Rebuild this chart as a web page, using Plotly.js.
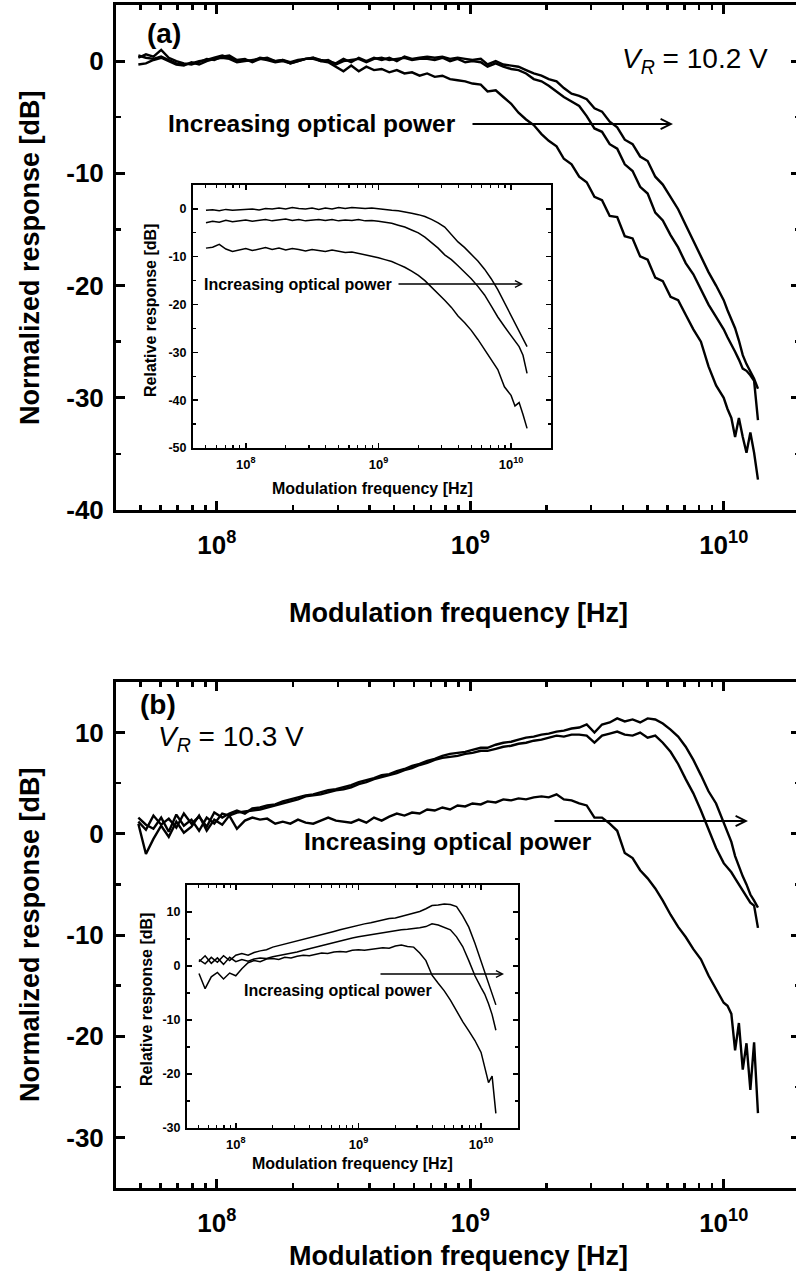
<!DOCTYPE html>
<html>
<head>
<meta charset="utf-8">
<script src="https://cdn.plot.ly/plotly-3.0.1.min.js"></script>
<style>
html,body{margin:0;padding:0;overflow:hidden;background:#fff;}
#chart{width:810px;height:1281px;}
</style>
</head>
<body>
<div id="chart"></div>
<script>
// ---------------- DATA ----------------
// Frequency grid (Hz) of the main panels
const freqMain = [4.90e7,5.25e7,5.62e7,6.03e7,6.46e7,6.92e7,7.41e7,7.94e7,8.51e7,9.12e7,
9.77e7,1.05e8,1.12e8,1.20e8,1.29e8,1.38e8,1.48e8,1.58e8,1.70e8,1.82e8,
1.95e8,2.09e8,2.24e8,2.40e8,2.57e8,2.75e8,2.95e8,3.16e8,3.39e8,3.63e8,
3.89e8,4.17e8,4.47e8,4.79e8,5.13e8,5.50e8,5.89e8,6.31e8,6.76e8,7.24e8,
7.76e8,8.32e8,8.91e8,9.55e8,1.02e9,1.10e9,1.17e9,1.26e9,1.35e9,1.45e9,
1.55e9,1.66e9,1.78e9,1.91e9,2.04e9,2.19e9,2.34e9,2.51e9,2.69e9,2.88e9,
3.09e9,3.31e9,3.55e9,3.80e9,4.07e9,4.37e9,4.68e9,5.01e9,5.37e9,5.75e9,
6.17e9,6.61e9,7.08e9,7.59e9,8.13e9,8.71e9,9.33e9,
1.00e10,1.035e10,1.072e10,1.109e10,1.148e10,1.189e10,1.230e10,1.274e10,1.318e10,1.365e10];

// Panel (a), V_R = 10.2 V, normalized response [dB]
const respA_high = [0.5,0.3,0.2,0.4,0.1,-0.2,-0.3,-0.2,0.0,0.1,
0.3,0.5,0.3,0.0,0.1,0.0,0.3,0.2,0.0,0.1,
-0.2,0.0,0.2,0.3,0.1,0.0,-0.2,0.2,-0.1,0.3,
0.0,0.3,0.1,0.3,0.0,0.4,0.2,0.3,0.4,0.3,
0.4,0.2,0.3,0.2,0.1,0.2,-0.3,0.0,-0.3,-0.4,
-0.5,-0.8,-1.1,-1.3,-1.6,-1.8,-2.4,-2.9,-3.1,-3.4,
-4.2,-4.5,-5.4,-5.9,-7.0,-7.4,-8.5,-8.9,-10.3,-11.0,
-12.1,-13.2,-14.6,-16.0,-17.4,-18.8,-20.0,
-21.3,-22.2,-23.0,-23.8,-24.9,-26.2,-27.0,-27.6,-28.3,-29.2];
const respA_mid = [0.3,0.6,0.4,1.0,0.3,0.0,-0.2,-0.3,-0.1,0.2,
0.1,0.4,0.5,0.1,0.2,-0.1,0.2,0.3,0.0,0.1,
-0.1,0.1,0.2,0.2,0.0,0.1,-0.3,0.0,0.1,0.2,
-0.1,0.2,0.3,0.1,0.2,0.3,0.1,0.2,0.2,0.1,
0.3,0.0,0.2,-0.1,0.0,-0.1,-0.5,-0.2,-0.5,-0.7,
-0.8,-1.1,-1.6,-1.8,-2.2,-2.7,-3.2,-3.6,-4.0,-4.9,
-6.0,-6.3,-7.4,-7.8,-9.2,-9.8,-11.2,-11.8,-13.5,-14.2,
-15.5,-16.6,-18.0,-19.0,-20.3,-21.7,-22.8,
-23.9,-24.6,-25.2,-25.9,-26.6,-27.4,-27.6,-28.0,-28.5,-32.0];
const respA_low = [-0.3,-0.2,0.1,0.3,0.0,-0.3,-0.4,-0.1,-0.3,0.0,
0.2,0.3,0.2,-0.1,0.0,0.1,0.2,0.1,-0.1,0.0,
-0.2,0.0,0.2,0.3,0.0,-0.1,-0.5,-0.9,-0.4,-0.9,
-0.5,-0.8,-0.7,-1.0,-0.8,-1.1,-1.0,-1.3,-1.1,-1.4,
-1.3,-1.6,-1.7,-1.8,-2.0,-2.1,-2.7,-2.6,-3.2,-3.8,
-4.6,-5.2,-5.7,-6.5,-7.1,-7.6,-8.7,-9.2,-10.3,-10.8,
-12.1,-12.4,-13.8,-13.9,-15.6,-15.8,-17.4,-17.7,-19.3,-19.6,
-21.0,-21.3,-22.6,-23.9,-25.0,-27.2,-28.9,
-30.0,-31.0,-31.8,-33.5,-31.8,-33.5,-34.9,-33.1,-34.9,-37.3];

// Panel (b), V_R = 10.3 V, normalized response [dB]
const respB_high = [1.2,0.4,1.8,0.9,1.5,0.6,2.0,1.0,1.7,0.7,
2.1,1.6,2.0,2.3,2.0,2.5,2.6,2.8,2.9,3.2,
3.4,3.6,3.8,3.9,4.1,4.3,4.4,4.6,4.8,5.1,
5.3,5.5,5.8,5.9,6.2,6.4,6.7,6.9,7.2,7.4,
7.7,7.9,8.0,8.1,8.3,8.5,8.5,8.8,9.0,9.1,
9.3,9.5,9.6,9.8,9.9,10.1,10.2,10.4,10.5,10.8,
10.0,10.8,11.0,11.4,11.1,11.3,11.0,11.4,11.3,10.9,
10.3,9.6,8.6,7.3,5.8,4.2,3.0,
1.1,0.2,-0.8,-2.2,-3.3,-4.2,-5.0,-6.0,-6.6,-7.3];
const respB_mid = [1.6,0.9,0.5,1.6,0.2,1.9,0.8,1.4,0.3,1.6,
1.0,2.0,1.8,2.1,2.2,2.3,2.4,2.6,2.8,3.0,
3.2,3.4,3.7,3.8,3.9,4.1,4.3,4.4,4.6,4.9,
5.1,5.4,5.6,5.8,6.0,6.3,6.5,6.8,7.0,7.3,
7.5,7.6,7.7,7.9,8.0,8.2,8.2,8.4,8.6,8.7,
8.9,9.0,9.2,9.3,9.5,9.7,9.6,9.8,9.8,9.7,
9.0,9.7,9.9,10.1,9.8,9.7,10.0,9.5,9.7,9.0,
8.1,6.9,5.4,4.0,2.3,0.5,-1.4,
-2.9,-3.3,-3.8,-4.4,-5.0,-5.6,-6.1,-6.8,-7.1,-9.3];
const respB_low = [1.0,-2.0,-0.5,0.8,-0.3,1.2,0.1,0.7,1.8,0.3,
1.4,0.9,1.8,0.5,1.3,1.6,1.4,1.5,1.0,1.2,
1.0,1.4,1.1,1.0,1.3,1.6,1.3,1.2,1.1,1.4,
1.1,1.6,1.3,1.7,2.0,1.8,2.1,2.0,2.4,2.3,
2.6,2.4,2.8,2.7,3.0,2.9,3.2,3.1,3.4,3.3,
3.5,3.4,3.6,3.7,3.6,3.9,3.4,3.3,3.0,2.8,
1.6,1.6,1.0,0.3,-1.9,-2.4,-3.6,-4.4,-5.4,-6.6,
-8.0,-9.2,-10.2,-11.4,-12.4,-14.0,-15.4,
-16.7,-17.0,-17.8,-21.4,-18.7,-23.3,-20.7,-25.3,-20.6,-27.6];

// Frequency grid (Hz) of the insets
const freqInset = [5.01e7,5.62e7,6.31e7,7.08e7,7.94e7,8.91e7,1.00e8,1.12e8,1.26e8,1.41e8,
1.58e8,1.78e8,2.00e8,2.24e8,2.51e8,2.82e8,3.16e8,3.55e8,3.98e8,4.47e8,
5.01e8,5.62e8,6.31e8,7.08e8,7.94e8,8.91e8,1.00e9,1.12e9,1.26e9,1.41e9,
1.58e9,1.78e9,2.00e9,2.24e9,2.51e9,2.82e9,3.16e9,3.55e9,3.98e9,4.47e9,
5.01e9,5.62e9,6.31e9,7.08e9,7.94e9,8.91e9,1.00e10,1.07e10,1.15e10,1.23e10,1.32e10];

// Inset (a): relative response [dB]
const relA_high = [-0.3,-0.2,-0.4,-0.1,-0.3,-0.2,-0.1,0.0,-0.2,0.1,
0.0,0.2,0.0,0.3,0.1,0.0,0.2,-0.1,0.2,0.0,
0.3,0.1,0.3,0.2,0.1,0.2,0.0,-0.1,-0.3,-0.4,
-0.6,-0.9,-1.2,-1.6,-2.2,-2.9,-3.8,-5.3,-6.9,-8.1,
-9.4,-10.9,-12.6,-14.6,-16.9,-19.6,-22.2,-23.6,-25.3,-27.2,-28.8];
const relA_mid = [-2.9,-2.6,-2.8,-2.4,-2.7,-2.5,-2.3,-2.6,-2.4,-2.2,
-2.5,-2.3,-2.1,-2.4,-2.2,-2.5,-2.3,-2.2,-2.4,-2.2,
-2.5,-2.3,-2.4,-2.2,-2.5,-2.4,-2.6,-2.8,-3.0,-3.4,
-3.8,-4.4,-5.0,-5.9,-7.0,-8.2,-9.6,-10.6,-11.9,-13.2,
-14.6,-16.2,-18.0,-20.3,-22.6,-24.6,-26.4,-27.5,-28.8,-30.6,-34.4];
const relA_low = [-8.2,-8.0,-7.4,-8.4,-8.9,-8.6,-8.3,-8.7,-8.4,-8.1,
-8.5,-8.2,-8.6,-8.3,-8.5,-8.8,-8.5,-8.7,-8.9,-8.6,
-8.9,-9.1,-9.0,-9.3,-9.5,-9.8,-10.2,-10.6,-11.0,-11.6,
-12.2,-13.0,-13.9,-15.0,-16.3,-17.6,-19.1,-20.6,-22.4,-23.8,
-25.4,-27.3,-29.5,-31.4,-33.6,-37.2,-39.0,-41.2,-40.5,-43.0,-45.9];

// Inset (b): relative response [dB]
const relB_high = [1.2,0.4,1.6,0.7,1.9,1.0,2.0,2.3,2.0,2.5,
2.8,3.0,3.5,3.8,4.1,4.3,4.7,5.0,5.3,5.6,
5.9,6.1,6.4,6.7,7.0,7.3,7.6,7.8,8.0,8.3,
8.6,8.8,8.9,9.2,9.4,9.8,10.1,10.6,11.2,11.3,
11.5,11.4,11.0,9.3,7.2,4.2,0.8,-1.3,-3.3,-5.3,-7.2];
const relB_mid = [0.8,1.9,0.5,1.5,0.3,1.6,0.8,1.2,0.9,1.3,
1.5,1.4,1.7,1.9,2.1,2.4,2.6,2.9,3.2,3.5,
3.8,4.1,4.3,4.6,4.9,5.2,5.4,5.6,5.8,6.0,
6.2,6.4,6.5,6.7,6.8,6.9,7.1,7.3,7.8,7.6,
7.2,6.7,5.4,3.6,1.0,-1.8,-4.0,-5.2,-7.0,-9.0,-11.9];
const relB_low = [-1.4,-4.2,-2.0,-1.2,-2.4,-1.3,-1.8,-0.5,0.6,1.0,
0.8,1.3,1.4,1.2,1.6,1.5,1.8,2.0,1.9,2.2,
2.4,2.3,2.6,2.7,2.6,2.9,3.0,2.9,3.1,3.2,
3.4,3.3,3.7,3.9,3.6,3.5,2.4,1.0,-1.7,-3.2,
-4.6,-6.3,-8.4,-10.3,-12.0,-13.8,-16.0,-18.5,-21.6,-20.4,-27.3];

// Tick values / labels
const xMajorVals = [1e8, 1e9, 1e10];
const xMajorText = ['10<sup>8</sup>', '10<sup>9</sup>', '10<sup>10</sup>'];
const xMinorVals = [5e7,6e7,7e7,8e7,9e7,2e8,3e8,4e8,5e8,6e8,7e8,8e8,9e8,
                    2e9,3e9,4e9,5e9,6e9,7e9,8e9,9e9,2e10];
const yTicksA = [-40,-30,-20,-10,0];
const yMinorA = [-35,-25,-15,-5];
const yTicksB = [-30,-20,-10,0,10];
const yMinorB = [-25,-15,-5,5];
const yTicksInA = [-50,-40,-30,-20,-10,0];
const yMinorInA = [-45,-35,-25,-15,-5];
const yTicksInB = [-30,-20,-10,0,10];
const yMinorInB = [-25,-15,-5,5];

// ---------------- LAYOUT ----------------
const W = 810, H = 1281;
const fx = v => v / W;
const fy = v => 1 - v / H;
const FONT = 'Liberation Sans, Arial, Helvetica, sans-serif';
const XR = [Math.log10(4e7), Math.log10(2e10)];

function xAxis(dom, anchor, main) {
  return {
    type: 'log', range: XR, domain: dom, anchor: anchor,
    showline: true, linecolor: '#000', linewidth: main ? 3 : 2, mirror: 'ticks',
    ticks: 'inside', ticklen: main ? 9 : 5, tickwidth: main ? 3 : 1.5, tickcolor: '#000',
    tickmode: 'array', tickvals: xMajorVals, ticktext: xMajorText,
    ticklabelstandoff: main ? 10 : 3,
    tickfont: {family: FONT, size: main ? 26 : 13, color: '#000', weight: 'bold'},
    minor: {tickmode: 'array', tickvals: xMinorVals, ticks: 'inside',
            ticklen: main ? 5 : 3, tickwidth: main ? 2.5 : 1.2, tickcolor: '#000', showgrid: false},
    showgrid: false, zeroline: false, fixedrange: true
  };
}
function yAxis(dom, anchor, range, vals, minor, main) {
  return {
    range: range, domain: dom, anchor: anchor,
    showline: true, linecolor: '#000', linewidth: main ? 3 : 2, mirror: 'ticks',
    ticks: 'inside', ticklen: main ? 9 : 5, tickwidth: main ? 3 : 1.5, tickcolor: '#000',
    tickmode: 'array', tickvals: vals, ticktext: vals.map(v => String(v)),
    ticklabelstandoff: main ? 4 : 2,
    tickfont: {family: FONT, size: main ? 26 : 12.5, color: '#000', weight: 'bold'},
    minor: {tickmode: 'array', tickvals: minor, ticks: 'inside',
            ticklen: main ? 5 : 3, tickwidth: main ? 2.5 : 1.2, tickcolor: '#000', showgrid: false},
    showgrid: false, zeroline: false, fixedrange: true
  };
}

function line(x, y, xa, ya, w) {
  return {x: x, y: y, xaxis: xa, yaxis: ya, type: 'scatter', mode: 'lines',
          line: {color: '#000', width: w}, showlegend: false, hoverinfo: 'skip'};
}

const data = [
  line(freqMain, respA_high, 'x', 'y', 2.4),
  line(freqMain, respA_mid, 'x', 'y', 2.4),
  line(freqMain, respA_low, 'x', 'y', 2.4),
  line(freqInset, relA_high, 'x2', 'y2', 1.5),
  line(freqInset, relA_mid, 'x2', 'y2', 1.5),
  line(freqInset, relA_low, 'x2', 'y2', 1.5),
  line(freqMain, respB_high, 'x3', 'y3', 2.4),
  line(freqMain, respB_mid, 'x3', 'y3', 2.4),
  line(freqMain, respB_low, 'x3', 'y3', 2.4),
  line(freqInset, relB_high, 'x4', 'y4', 1.5),
  line(freqInset, relB_mid, 'x4', 'y4', 1.5),
  line(freqInset, relB_low, 'x4', 'y4', 1.5)
];

function txt(text, x, y, size, bold, opts) {
  return Object.assign({
    text: text, xref: 'paper', yref: 'paper', x: fx(x), y: fy(y),
    xanchor: 'left', yanchor: 'middle', showarrow: false,
    font: {family: FONT, size: size, color: '#000', weight: bold ? 'bold' : 'normal'}
  }, opts || {});
}
function arrow(x0, x1, y, w) {
  return {
    xref: 'paper', yref: 'paper', x: fx(x1), y: fy(y),
    axref: 'pixel', ayref: 'pixel', ax: -(x1 - x0), ay: 0,
    showarrow: true, arrowhead: 5, arrowsize: 1, arrowwidth: w, arrowcolor: '#000',
    standoff: 0, startstandoff: 0, text: ''
  };
}

const annotations = [
  // panel (a)
  txt('(a)', 145, 33, 28, true),
  txt('<i>V</i><sub><i>R</i></sub> = 10.2 V', 620, 60, 28, false),
  txt('Increasing optical power', 166, 123, 24.5, true),
  arrow(471, 673, 124, 2),
  txt('Increasing optical power', 202, 284, 16, true),
  arrow(397, 523, 284, 1.3),
  txt('Normalized response [dB]', 30, 258, 27, true, {xanchor: 'center', textangle: -90}),
  txt('Modulation frequency [Hz]', 458, 613, 27, true, {xanchor: 'center'}),
  txt('Relative response [dB]', 150, 311, 16, true, {xanchor: 'center', textangle: -90}),
  txt('Modulation frequency [Hz]', 372, 488, 16, true, {xanchor: 'center'}),
  // panel (b)
  txt('(b)', 138, 705, 28, true),
  txt('<i>V</i><sub><i>R</i></sub> = 10.3 V', 156, 738, 28, false),
  txt('Increasing optical power', 302, 842, 24.5, true),
  arrow(553, 748, 821, 2),
  txt('Increasing optical power', 242, 990, 16, true),
  arrow(379, 504, 974, 1.3),
  txt('Normalized response [dB]', 30, 935, 27, true, {xanchor: 'center', textangle: -90}),
  txt('Modulation frequency [Hz]', 458, 1256, 27, true, {xanchor: 'center'}),
  txt('Relative response [dB]', 146, 1000, 16, true, {xanchor: 'center', textangle: -90}),
  txt('Modulation frequency [Hz]', 352, 1163, 16, true, {xanchor: 'center'})
];

const layout = {
  width: W, height: H,
  margin: {l: 0, r: 0, t: 0, b: 0, pad: 0},
  paper_bgcolor: '#fff', plot_bgcolor: 'rgba(0,0,0,0)',
  showlegend: false,
  font: {family: FONT, color: '#000'},
  xaxis: xAxis([fx(116), fx(800)], 'y', true),
  yaxis: yAxis([fy(510), fy(5)], 'x', [-40, 5], yTicksA, yMinorA, true),
  xaxis2: xAxis([fx(193), fx(551)], 'y2', false),
  yaxis2: yAxis([fy(448), fy(185)], 'x2', [-50, 5], yTicksInA, yMinorInA, false),
  xaxis3: xAxis([fx(116), fx(800)], 'y3', true),
  yaxis3: yAxis([fy(1188), fy(682)], 'x3', [-35, 15], yTicksB, yMinorB, true),
  xaxis4: xAxis([fx(187), fx(518)], 'y4', false),
  yaxis4: yAxis([fy(1128), fy(885)], 'x4', [-30, 15], yTicksInB, yMinorInB, false),
  annotations: annotations
};

Plotly.newPlot('chart', data, layout, {staticPlot: true, displayModeBar: false});
</script>
</body>
</html>
